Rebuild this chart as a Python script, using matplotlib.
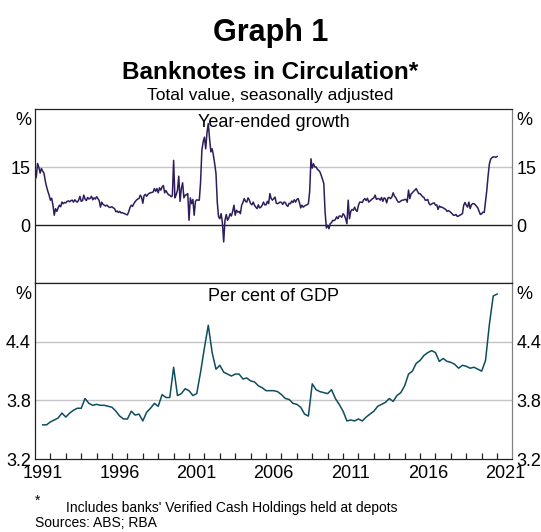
import numpy as np
import matplotlib.pyplot as plt

plt.rcParams['font.family'] = ['Liberation Sans', 'DejaVu Sans']

# Year-ended growth in banknotes, monthly, Jan 1991 - Jan 2021 (%)
growth = [
    11.9, 12.5, 16.0, 15.0, 13.5, 14.7, 14.0, 13.5, 11.5, 10.0,
    8.8, 7.8, 6.5, 7.0, 5.2, 2.6, 4.3, 3.6, 4.5, 5.2,
    4.8, 6.0, 5.6, 5.9, 5.8, 6.2, 6.3, 6.1, 6.4, 6.5,
    6.0, 6.6, 6.2, 6.0, 6.5, 7.5, 6.2, 6.4, 7.8, 6.8,
    6.4, 7.2, 6.8, 7.0, 7.5, 6.6, 7.1, 6.8, 7.4, 6.9,
    6.4, 4.7, 6.0, 5.4, 5.2, 5.0, 5.2, 4.9, 4.6, 4.7,
    4.8, 4.5, 4.3, 3.5, 3.7, 3.3, 3.6, 3.2, 3.3, 3.1,
    3.0, 2.8, 2.7, 3.5, 4.6, 5.2, 4.9, 5.6, 6.1, 6.5,
    6.8, 6.9, 7.8, 7.3, 5.7, 7.7, 8.0, 7.5, 8.0, 8.3,
    8.4, 8.5, 8.6, 9.5,
    8.8, 9.5, 8.4, 9.7, 9.1, 9.9, 10.3, 8.4, 9.0, 8.4,
    7.9, 7.8, 7.4, 7.6, 16.8, 7.1, 7.9, 9.1, 12.7, 6.2,
    9.5, 11.0, 7.1, 7.8, 7.9, 8.2, 1.3, 7.1, 5.6, 6.7,
    2.6, 6.2, 6.6, 6.5, 6.5, 11.2, 19.4, 21.6, 22.8, 19.8,
    24.0, 26.3, 22.4, 19.0, 19.8, 18.1, 15.9, 13.4, 6.0, 2.2,
    1.7, 3.0, 0.7, -4.3, 1.3, 2.8, 1.3, 1.9, 3.0, 2.4,
    3.6, 5.2, 2.6, 3.9, 3.4, 3.6, 3.0, 5.2, 5.9, 6.9,
    6.2, 6.0, 7.1, 6.5, 5.6, 5.3, 6.0, 5.2, 4.7, 4.3,
    5.3, 4.5, 4.7, 5.2, 6.0, 5.3, 5.3, 6.2, 5.6, 8.2,
    6.9, 6.5, 6.9, 7.3,
    5.7, 5.6, 5.8, 6.0, 5.9, 5.4, 6.0, 5.9, 5.2, 4.9,
    5.7, 5.6, 6.3, 5.9, 6.6, 6.0, 6.7, 6.9, 5.9, 4.5,
    5.2, 4.7, 5.0, 5.2, 5.3, 5.6, 8.8, 17.2, 14.8, 15.9,
    15.1, 15.1, 14.5, 14.2, 13.8, 12.9, 11.9, 10.8, 3.4, -0.7,
    0.0, -0.9, 0.4, 0.7, 1.3, 1.2, 1.5, 2.2, 1.7, 2.4,
    2.4, 2.1, 3.0, 2.6, 1.7, 0.4, 6.5, 1.7, 3.6, 4.1,
    3.9, 4.7, 3.9, 3.6, 5.2, 6.0, 6.0, 5.9, 6.6, 6.9,
    6.4, 7.0, 6.0, 6.3, 6.6, 6.9, 7.1, 7.8, 6.7, 6.9,
    6.9, 6.5, 7.2, 6.2, 7.1, 6.9, 5.8, 7.1, 7.2, 6.9,
    7.3, 8.4, 7.6,
    7.2, 6.5, 6.0, 6.0, 6.3, 6.5, 6.5, 6.7, 6.7, 6.0,
    9.1, 6.9, 8.1, 8.4, 8.8, 9.1, 9.5, 8.8, 8.2, 8.2,
    7.8, 7.4, 7.2, 6.5, 6.5, 6.7, 5.6, 5.3, 5.5, 5.7,
    5.8, 5.2, 5.3, 4.1, 5.0, 4.7, 4.7, 4.5, 4.3, 4.1,
    3.6, 3.8, 3.6, 3.3, 3.0, 2.6, 2.6, 2.8, 2.3, 2.4,
    2.6, 2.8, 3.0, 5.2, 5.9, 5.2, 4.7, 6.0, 4.3, 5.3,
    5.6, 5.6, 5.3, 4.9, 4.5, 3.6, 2.8, 3.0, 3.4, 3.3,
    6.2, 9.1, 12.8, 15.9, 17.1, 17.5, 17.7, 17.7, 17.6, 17.8,
]

# Banknotes as per cent of GDP, quarterly, Jun 1991 - Mar 2021
gdp_share = [
    3.55, 3.55, 3.58, 3.60, 3.62, 3.67, 3.63, 3.67, 3.70, 3.72,
    3.72, 3.82, 3.77, 3.75, 3.76, 3.75, 3.75, 3.74, 3.73, 3.69,
    3.64, 3.61, 3.61, 3.69, 3.65, 3.66, 3.59, 3.68, 3.72, 3.77,
    3.74, 3.86, 3.83, 3.83, 4.14, 3.85, 3.87, 3.92, 3.90, 3.85,
    3.87, 4.09, 4.34, 4.57, 4.29, 4.12, 4.16, 4.09, 4.07, 4.05,
    4.07, 4.07, 4.02, 4.03, 4.00, 3.99, 3.95, 3.93, 3.90, 3.90,
    3.90, 3.89, 3.86, 3.82, 3.81, 3.77, 3.76, 3.73, 3.66, 3.64,
    3.97, 3.91, 3.89, 3.88, 3.87, 3.91, 3.82, 3.76, 3.69, 3.59,
    3.60, 3.59, 3.61, 3.59, 3.63, 3.66, 3.69, 3.74, 3.76, 3.78,
    3.82, 3.79, 3.85, 3.88, 3.95, 4.07, 4.10, 4.18, 4.21, 4.26,
    4.29, 4.31, 4.29, 4.20, 4.23, 4.20, 4.19, 4.17, 4.13, 4.16,
    4.15, 4.13, 4.14, 4.12, 4.10, 4.21, 4.58, 4.87, 4.89,
]

growth_x = 1991 + np.arange(len(growth)) / 12
gdp_x = 1991.5 + np.arange(len(gdp_share)) * 0.25

year_ticks = list(range(1992, 2022))
year_labels = [str(y) for y in range(1991, 2022, 5)]

fs = 13
fig = plt.figure(figsize=(5.41, 5.32), dpi=100)
ax1 = fig.add_axes([0.0647, 0.4675, 0.8826, 0.327])
ax2 = fig.add_axes([0.0647, 0.1372, 0.8826, 0.3303])

for ax in (ax1, ax2):
    ax.set_xlim(1991, 2022)
    for s in ax.spines.values():
        s.set_color('#222222')
        s.set_linewidth(0.9)
    ax.spines['right'].set_color('#808080')
    ax.tick_params(axis='y', length=0, labelsize=fs, labelright=True, pad=3)
    ax.text(-0.008, 0.985, '%', transform=ax.transAxes, ha='right', va='top', fontsize=fs)
    ax.text(1.008, 0.985, '%', transform=ax.transAxes, ha='left', va='top', fontsize=fs)

# top panel
ax1.set_ylim(-15, 30)
ax1.set_yticks([0, 15])
ax1.axhline(15, color='#c4c4c4', lw=1.0, zorder=1)
ax1.axhline(0, color='#222222', lw=1.0, zorder=1)
ax1.plot(growth_x, growth, color='#2e1d5c', lw=1.1, zorder=3)
ax1.tick_params(axis='x', bottom=False, labelbottom=False)
ax1.text(0.5, 0.975, 'Year-ended growth', transform=ax1.transAxes,
         ha='center', va='top', fontsize=fs)

# bottom panel
ax2.set_ylim(3.2, 5.0)
ax2.set_yticks([3.2, 3.8, 4.4])
ax2.set_yticklabels(['3.2', '3.8', '4.4'])
for v in (3.8, 4.4):
    ax2.axhline(v, color='#c4c4c4', lw=1.0, zorder=1)
ax2.plot(gdp_x, gdp_share, color='#0d4d60', lw=1.1, zorder=3)
ax2.set_xticks(year_ticks)
ax2.set_xticklabels([])
ax2.set_xticks([int(y) + 0.5 for y in year_labels], minor=True)
ax2.set_xticklabels(year_labels, minor=True)
ax2.tick_params(axis='x', which='major', direction='in', length=4, width=0.9, color='#222222')
ax2.tick_params(axis='x', which='minor', length=0, labelsize=fs, pad=4)
ax2.text(0.5, 0.975, 'Per cent of GDP', transform=ax2.transAxes,
         ha='center', va='top', fontsize=fs)

# titles
fig.text(0.5, 1 - 41 / 532, 'Graph 1', ha='center', va='baseline',
         fontsize=22, fontweight='bold')
fig.text(0.5, 1 - 79 / 532, 'Banknotes in Circulation*', ha='center',
         va='baseline', fontsize=17.5, fontweight='bold')
fig.text(0.5, 1 - 100 / 532, 'Total value, seasonally adjusted', ha='center',
         va='baseline', fontsize=12.5)

# footnotes
fig.text(35 / 541, 1 - 505 / 532, '*', ha='left', va='baseline', fontsize=10)
fig.text(66 / 541, 1 - 512 / 532, "Includes banks' Verified Cash Holdings held at depots",
         ha='left', va='baseline', fontsize=10)
fig.text(35 / 541, 1 - 527 / 532, 'Sources: ABS; RBA', ha='left', va='baseline', fontsize=10)

fig.savefig('out.png', dpi=100)
